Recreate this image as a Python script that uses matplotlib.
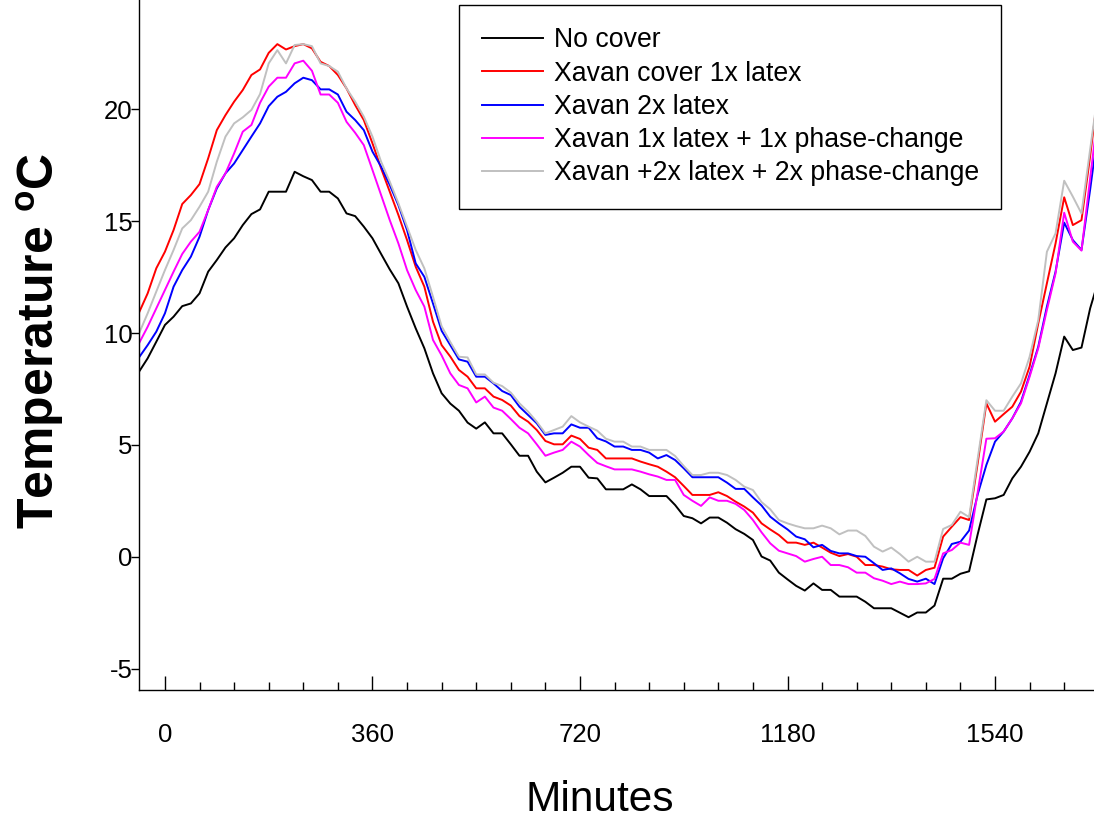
import numpy as np
import matplotlib.pyplot as plt
from matplotlib.ticker import MultipleLocator

plt.rcParams['font.family'] = ['Liberation Sans', 'DejaVu Sans']
plt.rcParams['mathtext.fontset'] = 'custom'
plt.rcParams['mathtext.bf'] = 'Liberation Sans:bold'
plt.rcParams['mathtext.rm'] = 'Liberation Sans'
plt.rcParams['axes.unicode_minus'] = False

# readings every 15 minutes, starting 45 minutes before zero
minutes = np.arange(-45, 1621, 15)

no_cover = [8.27, 8.87, 9.61, 10.36, 10.73, 11.2, 11.32, 11.77, 12.74, 13.26,
            13.82, 14.23, 14.82, 15.31, 15.52, 16.31, 16.31, 16.31, 17.2, 17.0,
            16.83, 16.31, 16.31, 16.01, 15.34, 15.22, 14.75, 14.23, 13.53, 12.84,
            12.22, 11.18, 10.21, 9.32, 8.2, 7.31, 6.85, 6.53, 6.0, 5.73,
            6.01, 5.52, 5.52, 5.03, 4.52, 4.52, 3.81, 3.33, 3.54, 3.76,
            4.03, 4.03, 3.54, 3.51, 3.02, 3.02, 3.02, 3.24, 3.02, 2.72,
            2.72, 2.72, 2.32, 1.83, 1.73, 1.5, 1.76, 1.76, 1.53, 1.24,
            1.03, 0.76, 0.02, -0.16, -0.7, -1.0, -1.29, -1.5, -1.18, -1.47,
            -1.47, -1.77, -1.77, -1.77, -2.0, -2.29, -2.29, -2.29, -2.49, -2.69,
            -2.48, -2.48, -2.17, -0.97, -0.97, -0.75, -0.64, 1.02, 2.57, 2.62,
            2.77, 3.51, 4.03, 4.7, 5.52, 6.86, 8.2, 9.84, 9.24, 9.35,
            11.1, 12.4]

latex_1x = [10.91, 11.77, 12.89, 13.63, 14.6, 15.76, 16.16, 16.65, 17.8, 19.06,
            19.73, 20.33, 20.85, 21.52, 21.77, 22.51, 22.9, 22.66, 22.81, 22.9,
            22.71, 22.11, 21.92, 21.52, 20.92, 20.18, 19.51, 18.47, 17.35, 16.31,
            15.27, 14.15, 12.96, 12.07, 10.51, 9.46, 8.95, 8.35, 8.05, 7.53,
            7.53, 7.16, 7.01, 6.76, 6.29, 6.04, 5.67, 5.18, 5.03, 5.03,
            5.42, 5.27, 4.88, 4.78, 4.4, 4.4, 4.4, 4.4, 4.26, 4.14,
            4.03, 3.81, 3.56, 3.17, 2.77, 2.77, 2.77, 2.89, 2.72, 2.47,
            2.25, 1.98, 1.5, 1.23, 0.98, 0.64, 0.64, 0.54, 0.64, 0.42,
            0.19, 0.04, 0.13, 0.01, -0.36, -0.36, -0.43, -0.55, -0.58, -0.58,
            -0.83, -0.58, -0.48, 0.91, 1.35, 1.78, 1.65, 4.2, 6.86, 6.04,
            6.38, 6.71, 7.38, 8.5, 10.43, 12.22, 14.0, 16.06, 14.82, 15.04,
            17.9, 21.0]

latex_2x = [8.91, 9.46, 10.06, 10.88, 12.07, 12.81, 13.41, 14.3, 15.49, 16.46,
            17.13, 17.57, 18.17, 18.77, 19.36, 20.13, 20.55, 20.77, 21.15, 21.4,
            21.29, 20.88, 20.88, 20.65, 19.88, 19.51, 19.06, 18.1, 17.43, 16.61,
            15.71, 14.6, 13.11, 12.51, 11.32, 10.1, 9.46, 8.82, 8.72, 8.05,
            8.05, 7.75, 7.41, 7.23, 6.71, 6.34, 5.97, 5.45, 5.52, 5.52,
            5.92, 5.77, 5.77, 5.3, 5.16, 4.93, 4.93, 4.78, 4.78, 4.66,
            4.4, 4.55, 4.33, 3.96, 3.56, 3.56, 3.56, 3.56, 3.32, 3.04,
            3.04, 2.66, 2.3, 1.8, 1.5, 1.23, 0.91, 0.79, 0.43, 0.54,
            0.27, 0.16, 0.16, 0.04, 0.01, -0.28, -0.58, -0.51, -0.73, -0.98,
            -1.1, -0.97, -1.21, -0.06, 0.58, 0.68, 1.18, 2.8, 4.11, 5.15,
            5.6, 6.19, 6.93, 8.13, 9.39, 11.18, 12.74, 14.93, 14.15, 13.71,
            16.4, 19.3]

latex_pc_1x = [9.54, 10.28, 11.1, 11.92, 12.74, 13.53, 14.08, 14.52, 15.49, 16.53,
               17.13, 18.02, 18.99, 19.29, 20.28, 21.0, 21.4, 21.4, 22.04, 22.16,
               21.71, 20.65, 20.65, 20.28, 19.43, 18.94, 18.39, 17.28, 16.16, 15.04,
               14.0, 12.81, 11.92, 11.18, 9.69, 9.0, 8.2, 7.68, 7.53, 6.9,
               7.16, 6.67, 6.53, 6.16, 5.77, 5.52, 5.03, 4.52, 4.66, 4.78,
               5.15, 4.93, 4.55, 4.2, 4.05, 3.91, 3.91, 3.91, 3.81, 3.69,
               3.59, 3.44, 3.44, 2.77, 2.51, 2.28, 2.66, 2.51, 2.51, 2.37,
               2.1, 1.65, 1.1, 0.61, 0.28, 0.16, 0.04, -0.21, -0.09, 0.01,
               -0.36, -0.36, -0.46, -0.7, -0.7, -0.95, -1.06, -1.21, -1.1, -1.21,
               -1.21, -1.18, -0.98, 0.16, 0.31, 0.64, 0.54, 2.9, 5.28, 5.3,
               5.6, 6.19, 6.86, 8.05, 9.32, 11.03, 12.66, 15.37, 14.08, 13.68,
               16.9, 20.1]

latex_pc_2x = [9.98, 10.88, 11.85, 12.81, 13.71, 14.67, 15.04, 15.64, 16.31, 17.65,
               18.77, 19.36, 19.63, 19.96, 20.67, 22.04, 22.63, 22.04, 22.86, 22.9,
               22.81, 22.04, 21.92, 21.67, 20.92, 20.33, 19.66, 18.77, 17.65, 16.76,
               15.79, 14.75, 13.71, 12.89, 11.62, 10.3, 9.6, 8.94, 8.91, 8.15,
               8.15, 7.78, 7.63, 7.34, 6.86, 6.49, 6.04, 5.52, 5.67, 5.82,
               6.29, 6.01, 5.82, 5.64, 5.28, 5.15, 5.15, 4.93, 4.93, 4.78,
               4.78, 4.78, 4.51, 4.06, 3.66, 3.66, 3.76, 3.76, 3.66, 3.44,
               3.14, 2.99, 2.45, 2.13, 1.65, 1.5, 1.38, 1.28, 1.28, 1.4,
               1.28, 1.01, 1.18, 1.18, 0.94, 0.46, 0.24, 0.42, 0.13, -0.21,
               0.01, -0.21, -0.21, 1.25, 1.43, 2.02, 1.78, 4.4, 7.0, 6.53,
               6.53, 7.16, 7.75, 8.94, 10.58, 13.63, 14.45, 16.8, 16.09, 15.34,
               18.2, 21.0]

labels = ['No cover', 'Xavan cover 1x latex', 'Xavan 2x latex',
          'Xavan 1x latex + 1x phase-change', 'Xavan +2x latex + 2x phase-change']
colors = ['black', '#ff0000', '#0000ff', '#ff00ff', '#c0c0c0']
series = [no_cover, latex_1x, latex_2x, latex_pc_1x, latex_pc_2x]

xtick_pos = [0, 360, 720, 1080, 1440]
xtick_labels = ['0', '360', '720', '1180', '1540']

fig = plt.figure(figsize=(10.94, 8.22), dpi=100)
ax = fig.add_axes([139 / 1094, 1 - 690 / 822, 1 - 139 / 1094, 690 / 822])

for vals, col, lab in zip(series, colors, labels):
    ax.plot(minutes, vals, color=col, lw=1.4, label=lab)

ax.set_xlim(-45, 1611.7)
ax.set_ylim(-5.94, 24.87)
ax.spines['top'].set_visible(False)
ax.spines['right'].set_visible(False)
for s in ['left', 'bottom']:
    ax.spines[s].set_linewidth(1.0)

ax.set_xticks(xtick_pos)
ax.set_xticklabels(xtick_labels)
ax.xaxis.set_minor_locator(MultipleLocator(60))
ax.set_yticks([-5, 0, 5, 10, 15, 20])
ax.tick_params(axis='x', which='major', direction='in', length=10, width=1,
               pad=24, labelsize=18.5)
ax.tick_params(axis='x', which='minor', direction='in', length=6, width=1)
ax.tick_params(axis='y', direction='out', length=6, width=1, pad=-1.5,
               labelsize=18.5)

fig.text(0.037, 0.585, r'Temperature $^{\mathbf{o}}$C', rotation=90,
         fontsize=36, fontweight='bold', ha='center', va='center')
fig.text(600 / 1094, 1 - 800 / 822, 'Minutes', fontsize=30.5,
         ha='center', va='center')

leg = ax.legend(loc='upper left', bbox_to_anchor=(0.335, 0.993), fontsize=19.2,
                frameon=True, fancybox=False, framealpha=1, edgecolor='black',
                handlelength=2.3, handletextpad=0.4, labelspacing=0.27,
                borderpad=0.85, borderaxespad=0)
leg.get_frame().set_linewidth(1.0)

fig.savefig('out.png', dpi=100)
